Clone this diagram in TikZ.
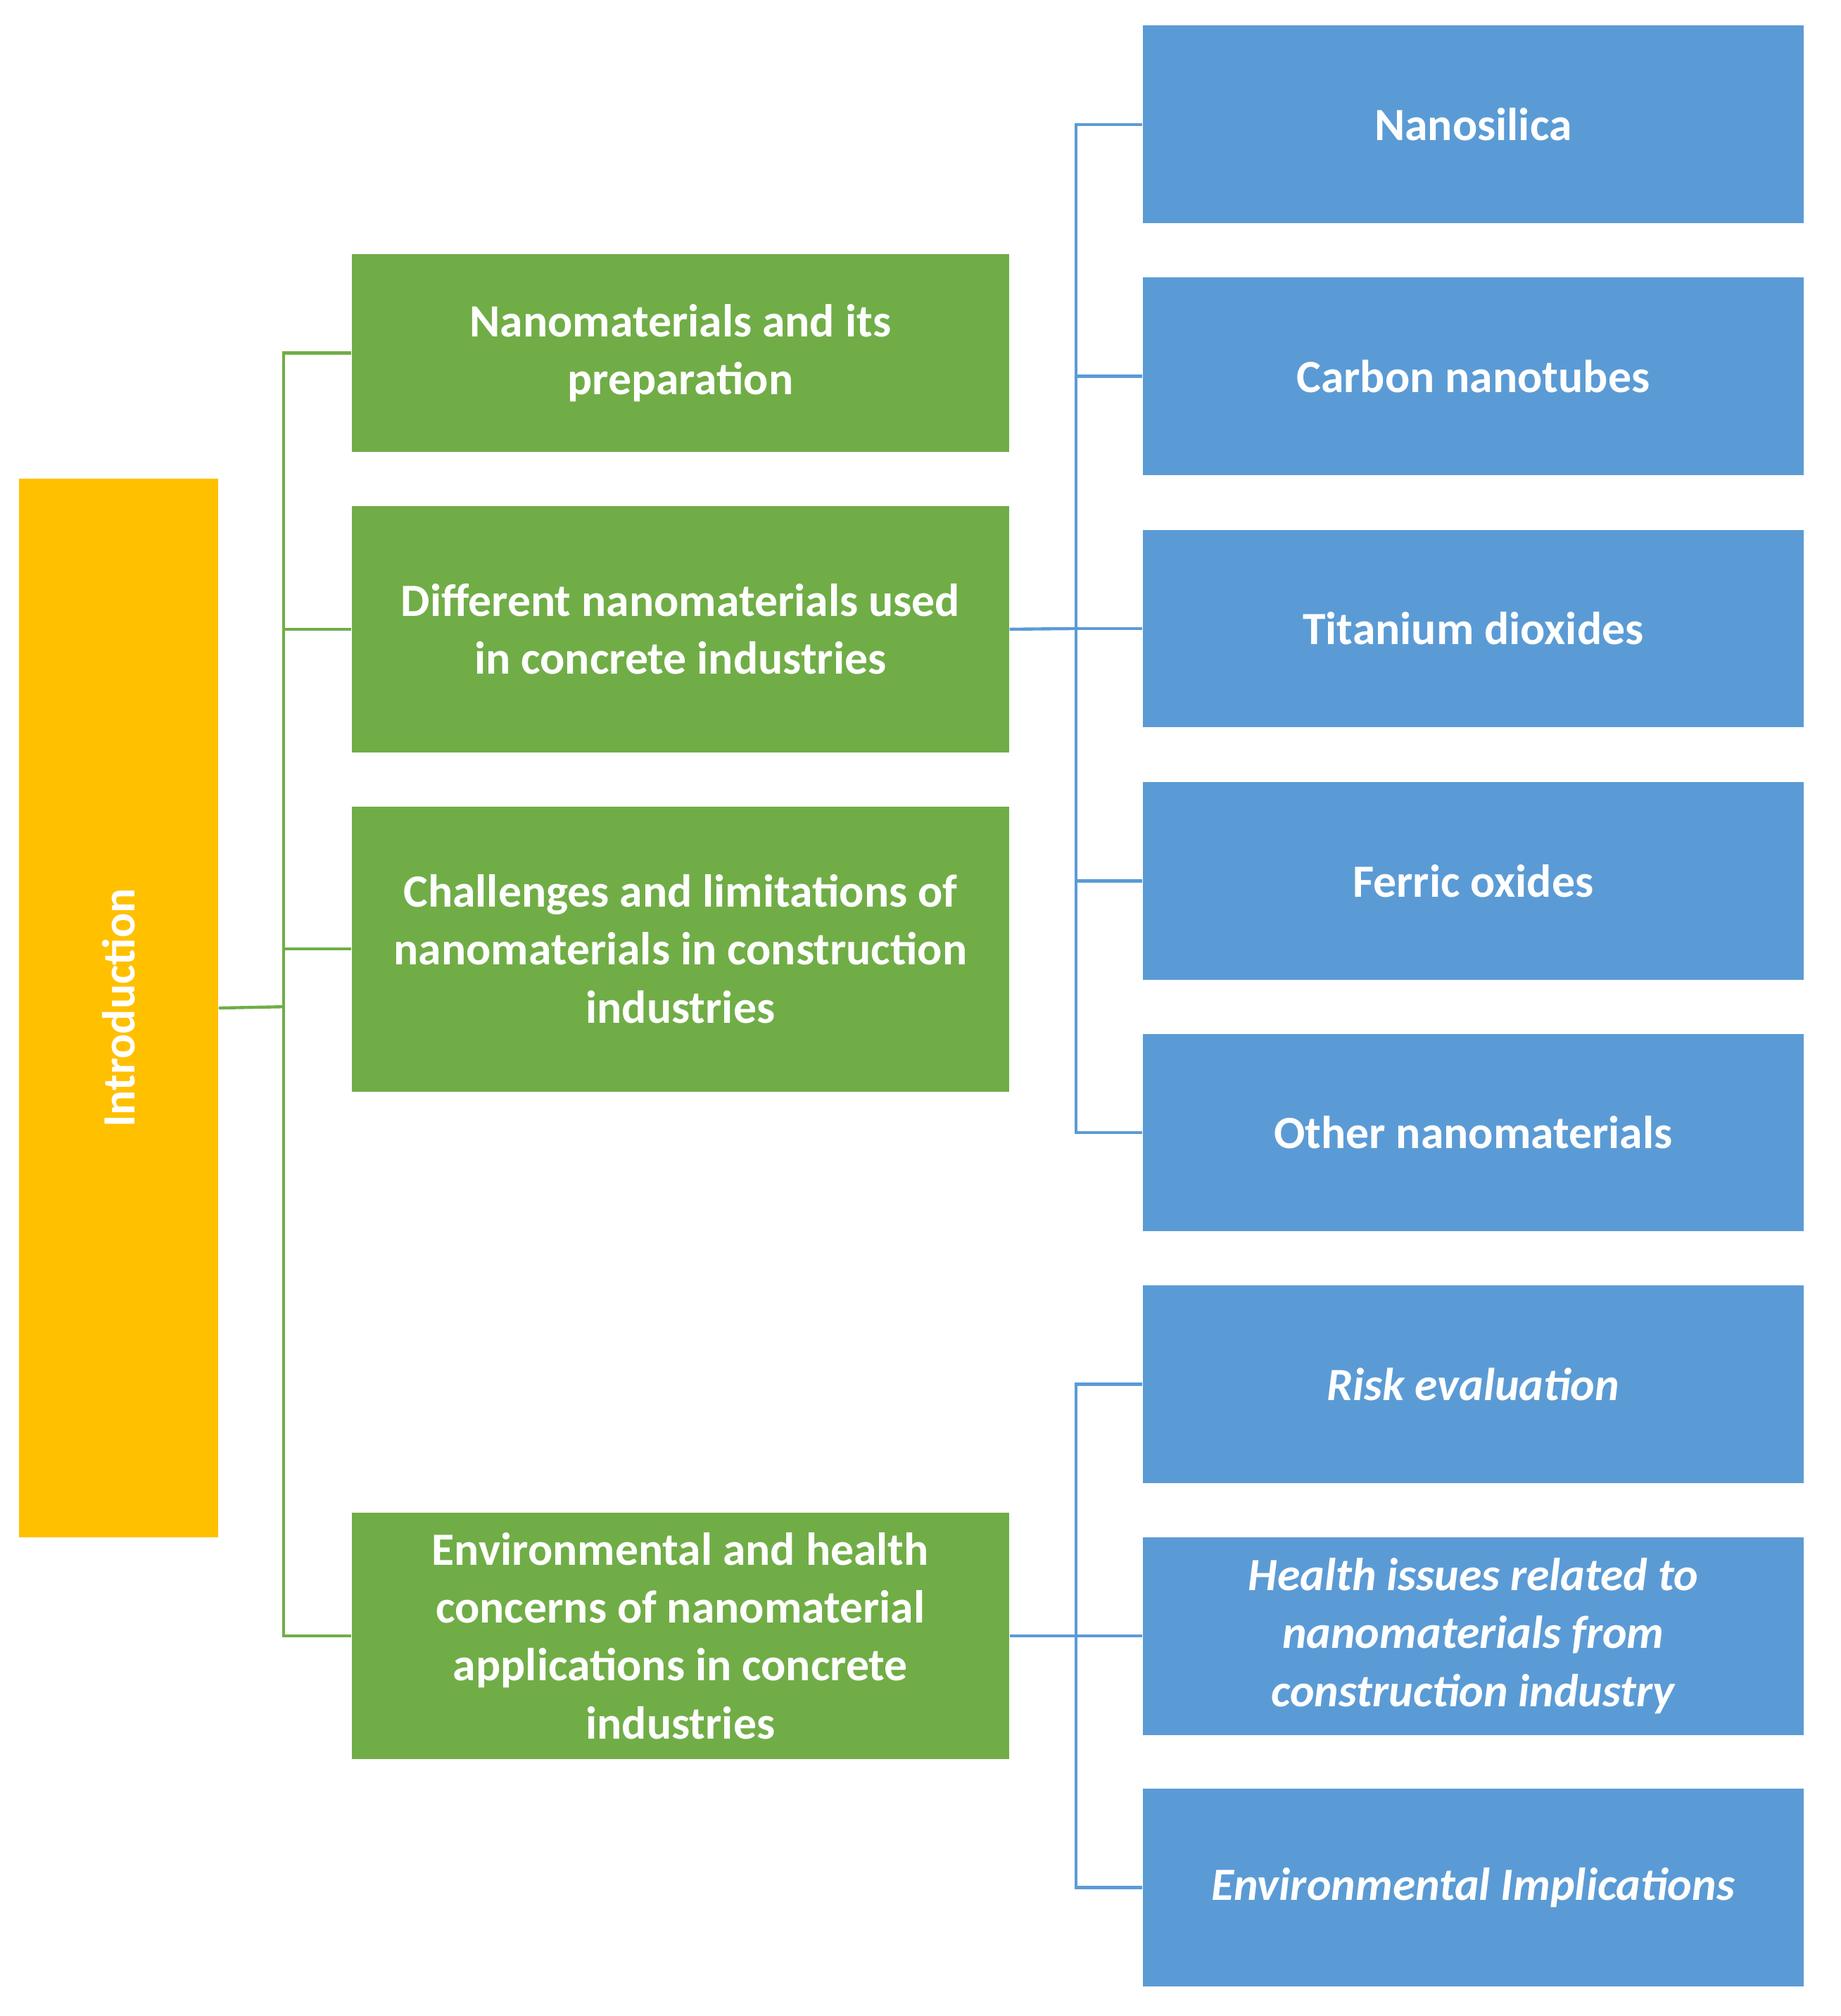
\documentclass[tikz,border=0pt]{standalone}
\usepackage{fontspec}
\setmainfont{Carlito}
\definecolor{yel}{HTML}{FFC000}
\definecolor{grn}{HTML}{70AD47}
\definecolor{blu}{HTML}{5B9BD5}
\begin{document}
\begin{tikzpicture}[x=0.5pt,y=-0.5pt,
 box/.style={draw=none,fill=#1,text=white,inner sep=0pt,align=center,font=\fontsize{18}{22.5}\selectfont\bfseries},
 gb/.style={box=grn,minimum width=256pt},
 bb/.style={box=blu,minimum width=257.5pt,minimum height=77pt},
 gl/.style={draw=grn,line width=1.2pt},
 bl/.style={draw=blu,line width=1.2pt}]
\useasboundingbox (0,0) rectangle (1434,1570);
\node[box=yel,minimum width=77.5pt,minimum height=412pt] (intro) at (92.5,785) {\rotatebox{90}{Introduction}};
\node[gb,minimum height=77pt] (g1) at (530,275) {Nanomaterials and its\\preparation};
\node[gb,minimum height=96pt] (g2) at (530,490) {Different nanomaterials used\\in concrete industries};
\node[gb,minimum height=111pt] (g3) at (530,739) {Challenges and limitations of\\nanomaterials in construction\\industries};
\node[gb,minimum height=96pt] (g4) at (530,1274) {Environmental and health\\concerns of nanomaterial\\applications in concrete\\industries};
\node[bb] (b1) at (1147.5,97) {Nanosilica};
\node[bb] (b2) at (1147.5,293) {Carbon nanotubes};
\node[bb] (b3) at (1147.5,489.5) {Titanium dioxides};
\node[bb] (b4) at (1147.5,686) {Ferric oxides};
\node[bb] (b5) at (1147.5,882) {Other nanomaterials};
\node[bb,font=\fontsize{18}{22.5}\selectfont\bfseries\itshape] (b6) at (1147.5,1078) {Risk evaluation};
\node[bb,font=\fontsize{18}{22.5}\selectfont\bfseries\itshape] (b7) at (1147.5,1274) {Health issues related to\\nanomaterials from\\construction industry};
\node[bb,font=\fontsize{18}{22.5}\selectfont\bfseries\itshape] (b8) at (1147.5,1470) {Environmental Implications};
\coordinate (gj) at (221,784);
\draw[gl] (intro.east) -- (gj);
\foreach \n in {g1,g2,g3,g4} \draw[gl] (gj) |- (\n.west);
\coordinate (bj) at (838,489.5);
\draw[bl] (g2.east) -- (bj);
\foreach \n in {b1,b2,b3,b4,b5} \draw[bl] (bj) |- (\n.west);
\coordinate (bk) at (838,1274);
\draw[bl] (g4.east) -- (bk);
\foreach \n in {b6,b7,b8} \draw[bl] (bk) |- (\n.west);
\end{tikzpicture}
\end{document}
